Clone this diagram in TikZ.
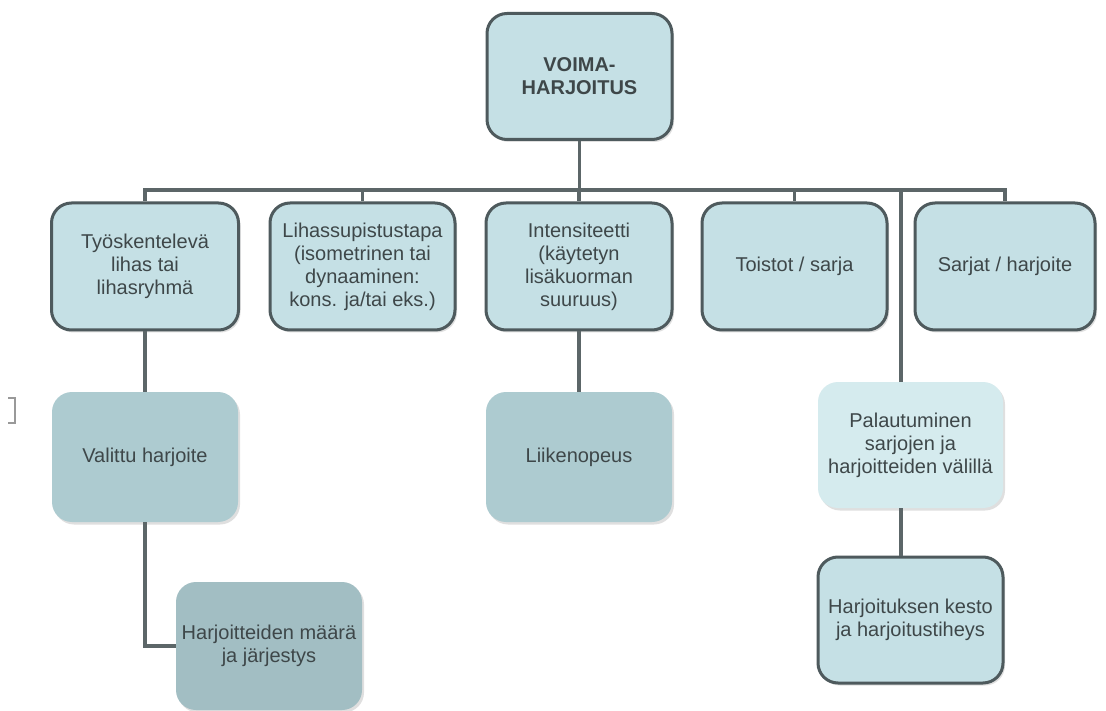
\documentclass[tikz,border=0pt]{standalone}
\usepackage{fontspec}
\setmainfont{Liberation Sans}
\usetikzlibrary{shadows}
\definecolor{lone}{HTML}{C5E0E5}
\definecolor{ltwo}{HTML}{ADCBD0}
\definecolor{lthree}{HTML}{A2BEC3}
\definecolor{lpale}{HTML}{D5EBEE}
\definecolor{edge}{HTML}{4E5A5D}
\definecolor{wire}{HTML}{5C6668}
\definecolor{ink}{HTML}{3E4749}
\tikzset{
  box/.style={rectangle, rounded corners=20pt, align=center, text=ink,
    font=\fontsize{20}{23}\selectfont, inner sep=0pt,
    drop shadow={opacity=0.25, shadow xshift=2pt, shadow yshift=-2.5pt}},
  framed/.style={box, draw=edge, line width=3pt, fill=lone},
  plainA/.style={box, fill=ltwo},
  plainB/.style={box, fill=lthree},
  plainC/.style={box, fill=lpale},
  conn/.style={draw=wire, line width=3.2pt},
}
\begin{document}
\begin{tikzpicture}[x=1pt, y=-1pt]
\useasboundingbox[fill=white] (0,0) rectangle (1106,711);

\node[framed, minimum width=185pt, minimum height=126pt,
      font=\fontsize{20}{23}\selectfont\bfseries] (root) at (579.5,76.5) {VOIMA-\\HARJOITUS};

\node[framed, minimum width=187pt, minimum height=127pt] (A) at (145,266.5) {Työskentelevä\\lihas tai\\lihasryhmä};
\node[framed, minimum width=185pt, minimum height=127pt] (B) at (362.5,266.5) {Lihassupistustapa\\(isometrinen tai\\dynaaminen:\\kons. ja/tai eks.)};
\node[framed, minimum width=186pt, minimum height=127pt] (C) at (579,266.5) {Intensiteetti\\(käytetyn\\lisäkuorman\\suuruus)};
\node[framed, minimum width=185pt, minimum height=127pt] (D) at (794.5,266.5) {Toistot / sarja};
\node[framed, minimum width=180pt, minimum height=127pt] (E) at (1005,266.5) {Sarjat / harjoite};

\node[plainA, minimum width=186pt, minimum height=130pt] (V) at (145,457) {Valittu harjoite};
\node[plainA, minimum width=186pt, minimum height=130pt] (L) at (579,457) {Liikenopeus};
\node[plainB, minimum width=186pt, minimum height=128pt] (M) at (269,646) {Harjoitteiden määrä\\ja järjestys};
\node[plainC, minimum width=185pt, minimum height=126pt] (P) at (910.5,445) {Palautuminen\\sarjojen ja\\harjoitteiden välillä};
\node[framed, minimum width=185pt, minimum height=126pt] (K) at (910.5,620) {Harjoituksen kesto\\ja harjoitustiheys};

\coordinate (bus) at (0,190);
\coordinate (pc) at (901,190);

\draw[conn] (root.south) -- (root.south |- bus);
\draw[conn, line cap=rect] (A.north |- bus) -- (E.north |- bus);
\foreach \n in {A,B,C,D,E} {\draw[conn] (\n.north |- bus) -- (\n.north);}
\draw[conn] (pc) -- (pc |- P.north);
\draw[conn] (pc |- P.south) -- (pc |- K.north);
\draw[conn] (C.south) -- (L.north);
\draw[conn] (A.south) -- (V.north);
\draw[conn] (V.south) -- (V.south |- M.west) -- (M.west);

% small bracket mark at the left edge
\draw[draw=gray!80, line width=1.2pt] (8,398) -- (15,398) -- (15,423) -- (8,423);
\end{tikzpicture}
\end{document}
